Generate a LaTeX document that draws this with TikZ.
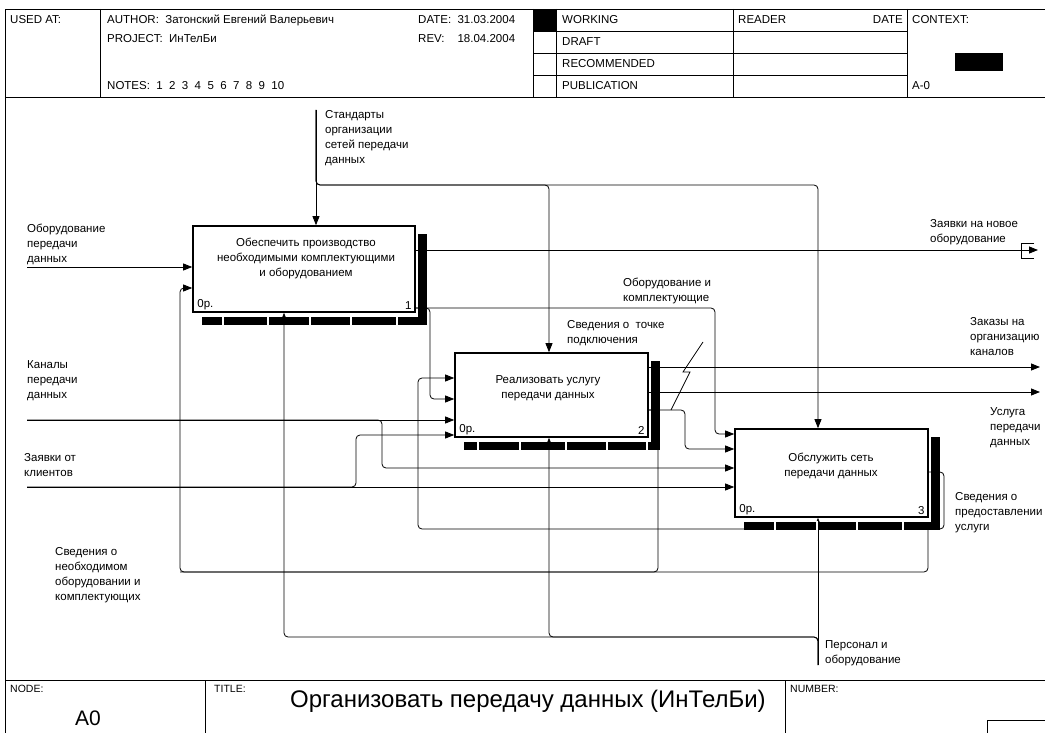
\documentclass[tikz,border=0pt]{standalone}
\usepackage{fontspec}
\setmainfont{Liberation Sans}
\usetikzlibrary{arrows.meta,positioning}
\pgfdeclarelayer{background}
\pgfsetlayers{background,main}

\begin{document}
\begin{tikzpicture}[x=1pt, y=-1pt, >={Triangle[length=9pt,width=7pt]},
	flow/.style={line width=0.8pt, rounded corners=4pt},
	frame/.style={line width=0.8pt},
	fbox/.style={draw, line width=1.6pt, fill=white, inner sep=0pt},
	txt/.style={inner sep=0pt, font=\fontsize{11.5}{15}\selectfont},
	lbl/.style={txt, anchor=north west, align=left},
	hdr/.style={txt, anchor=west}]

	\useasboundingbox (0,0) rectangle (1045,733);
	\clip (0,0) rectangle (1045,733);

	% Draw the frame, the header and the footer
	\draw[frame] (5,733) -- (5,9) -- (1045,9);
	\draw[frame] (5,97) -- (1045,97);
	\draw[frame] (5,680) -- (1045,680);
	\foreach \x in {100,533,556,733,907}
		\draw[frame] (\x,9) -- (\x,97);
	\foreach \y in {31,53,75}
		\draw[frame] (533,\y) -- (907,\y);
	\fill (533,9) rectangle (556,31);
	\fill (955,53) rectangle (1003,71);
	\draw[frame] (205,680) -- (205,733);
	\draw[frame] (785,680) -- (785,733);
	\draw[frame] (987,720) rectangle (1050,740);

	\node[hdr] (usedat) at (10,20) {USED AT:};
	\node[hdr] (author) at (107,20) {AUTHOR:\ \ Затонский Евгений Валерьевич};
	\node[hdr] (project) at (107,39) {PROJECT:\ \ ИнТелБи};
	\node[hdr] (notes) at (107,86) {NOTES:\ \ 1\ \ 2\ \ 3\ \ 4\ \ 5\ \ 6\ \ 7\ \ 8\ \ 9\ \ 10};
	\node[hdr] (date) at (418,20) {DATE:\ \ 31.03.2004};
	\node[hdr] (rev) at (418,39) {REV:};
	\node[txt, anchor=east] (revdate) at (date.east |- rev) {18.04.2004};
	\foreach \s/\y in {WORKING/20, DRAFT/42, RECOMMENDED/64, PUBLICATION/86}
		\node[hdr] (st-\s) at (562,\y) {\s};
	\node[hdr] (reader) at (738,20) {READER};
	\node[txt, anchor=east] (rdate) at (903,20) {DATE};
	\node[hdr] (context) at (912,20) {CONTEXT:};
	\node[hdr] (ctxnode) at (912,86) {A-0};

	\node[hdr, font=\fontsize{10.5}{12}\selectfont] (nodelbl) at (10,689) {NODE:};
	\node[hdr, font=\fontsize{10.5}{12}\selectfont] (titlelbl) at (214,689) {TITLE:};
	\node[hdr, font=\fontsize{10.5}{12}\selectfont] (numlbl) at (790,689) {NUMBER:};
	\node[txt, font=\fontsize{21}{24}\selectfont] (nodeid) at (88,718) {A0};
	\node[txt, font=\fontsize{24}{28}\selectfont] (title) at (528,701) {Организовать передачу данных (ИнТелБи)};

	% Draw the activity boxes
	\node[fbox, minimum width=222pt, minimum height=86pt] (b1) at (304,269) {};
	\node[fbox, minimum width=193pt, minimum height=84pt] (b2) at (551.5,395) {};
	\node[fbox, minimum width=193pt, minimum height=88pt] (b3) at (831.5,473) {};

	\node[txt, align=center] (b1t) at (306,258) {Обеспечить производство\\необходимыми комплектующими\\и оборудованием};
	\node[txt, align=center] (b2t) at (548,388) {Реализовать услугу\\передачи данных};
	\node[txt, align=center] (b3t) at (831,466) {Обслужить сеть\\передачи данных};

	\foreach \b/\n in {b1/1, b2/2, b3/3} {
		\node[txt, anchor=south west] (\b-cost) at ([xshift=5pt,yshift=3pt]\b.south west) {0р.};
		\node[txt, anchor=south east] (\b-num) at ([xshift=-4pt,yshift=3pt]\b.south east) {\n};
		% shadow bars
		\fill ([xshift=2pt,yshift=-9pt]\b.north east) rectangle ([xshift=11pt,yshift=-12pt]\b.south east);
		\fill ([xshift=10pt,yshift=-4pt]\b.south west) rectangle ([xshift=11pt,yshift=-12pt]\b.south east);
	}
	\foreach \x in {223,268,310,351,397}
		\draw[white, line width=1.2pt] (\x,316) -- (\x,325);
	\foreach \x in {478,520,566,607,647}
		\draw[white, line width=1.2pt] (\x,441) -- (\x,450);
	\foreach \x in {775,817,857,903}
		\draw[white, line width=1.2pt] (\x,521) -- (\x,530);

	% Draw the arrows behind the boxes
	\begin{pgfonlayer}{background}
		% control: standards
		\coordinate (stdTop) at (316,110);
		\coordinate (std2) at (549,185);
		\coordinate (std3) at (818,185);
		\draw[flow,->] (stdTop) -- (stdTop |- b1.north);
		\draw[flow,->] (stdTop) |- (std2) -- (std2 |- b2.north);
		\draw[flow,->] (stdTop) |- (std3) -- (std3 |- b3.north);

		% inputs from the left border
		\coordinate (eqIn) at (27,267);
		\coordinate (chIn) at (27,420);
		\coordinate (clIn) at (27,487);
		\coordinate (chJ) at (382,468);
		\coordinate (clJ) at (356,435);
		\draw[flow,->] (eqIn) -- (eqIn -| b1.west);
		\draw[flow,->] (chIn) -- (chIn -| b2.west);
		\draw[flow,->] (chIn) -| (chJ) -- (chJ -| b3.west);
		\draw[flow,->] (clIn) -- (clIn -| b3.west);
		\draw[flow,->] (clIn) -| (clJ) -- (clJ -| b2.west);

		% outputs of box 1
		\coordinate (reqOut) at (1038,250);
		\coordinate (eqOut) at (b1.east |- 0,308);
		\coordinate (eq2) at (430,399);
		\coordinate (eq3) at (715,434);
		\draw[flow,->] (reqOut -| b1.east) -- (reqOut);
		\draw[flow,->] (eqOut) -| (eq2) -- (eq2 -| b2.west);
		\draw[flow,->] (eqOut) -| (eq3) -- (eq3 -| b3.west);
		\draw[frame] (1034,243) -- (1021,243) -- (1021,258) -- (1034,258);

		% outputs of box 2
		\coordinate (ordOut) at (1040,367);
		\coordinate (svcOut) at (1040,392);
		\coordinate (ptOut) at (b2.east |- 0,410);
		\coordinate (ptJ) at (685,449);
		\draw[flow,->] (ordOut -| b2.east) -- (ordOut);
		\draw[flow,->] (svcOut -| b2.east) -- (svcOut);
		\draw[flow,->] (ptOut) -| (ptJ) -- (ptJ -| b3.west);
		\draw[frame] (703,342) -- (683,372) -- (690,372) -- (671,410);

		% feedback from box 3 and box 2
		\coordinate (b3out) at (b3.east |- 0,472);
		\coordinate (fbR) at (944,529);
		\coordinate (fbL) at (418,378);
		\coordinate (fbB) at (928,529);
		\coordinate (fbM) at (658,572);
		\coordinate (fbD) at (180,572);
		\coordinate (b1in2) at (b1.west |- 0,288);
		\draw[flow,->] (b3out) -| (fbR) -| (fbL) -- (fbL -| b2.west);
		\draw[flow,->] (fbB) |- (fbD) |- (b1in2);
		\draw[flow] (ptOut) -| (fbM) -- (fbD);

		% mechanism: staff and equipment
		\coordinate (mechIn) at (818,665);
		\coordinate (m1) at (284,637);
		\coordinate (m2) at (549,637);
		\draw[flow,->] (mechIn) -- (mechIn |- b3.south);
		\draw[flow,->] (mechIn) |- (m2) -- (m2 |- b2.south);
		\draw[flow,->] (mechIn) |- (m1) -- (m1 |- b1.south);
	\end{pgfonlayer}

	% Label the arrows
	\node[lbl] (stdLbl) at (325,110) {Стандарты\\организации\\сетей передачи\\данных};
	\node[lbl] (eqInLbl) at (27,224) {Оборудование\\передачи\\данных};
	\node[lbl] (chLbl) at (27,360) {Каналы\\передачи\\данных};
	\node[lbl] (clLbl) at (24,453) {Заявки от\\клиентов};
	\node[lbl] (fbLbl) at (55,547) {Сведения о\\необходимом\\оборудовании и\\комплектующих};
	\node[lbl] (reqLbl) at (930,219) {Заявки на новое\\оборудование};
	\node[lbl] (eqLbl) at (623,278) {Оборудование и\\комплектующие};
	\node[lbl] (ptLbl) at (567,320) {Сведения о\ \ точке\\подключения};
	\node[lbl] (ordLbl) at (970,317) {Заказы на\\организацию\\каналов};
	\node[lbl] (svcLbl) at (990,407) {Услуга\\передачи\\данных};
	\node[lbl] (infoLbl) at (955,492) {Сведения о\\предоставлении\\услуги};
	\node[lbl] (mechLbl) at (825,640) {Персонал и\\оборудование};

\end{tikzpicture}
\end{document}
